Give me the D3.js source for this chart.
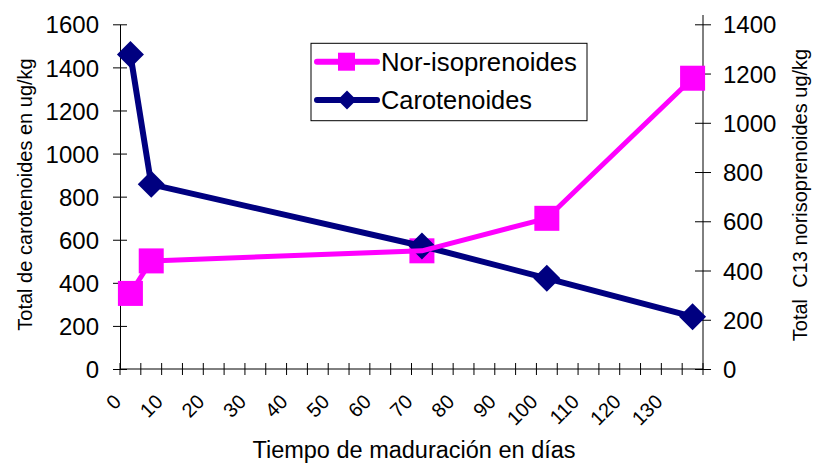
<!DOCTYPE html>
<html>
<head>
<meta charset="utf-8">
<script src="https://cdn.jsdelivr.net/npm/d3@7/dist/d3.min.js"></script>
<style>
  html, body { margin: 0; padding: 0; background: #fff; }
  svg { display: block; font-family: "Liberation Sans", Arial, sans-serif; }
</style>
</head>
<body>
<svg id="chart" width="813" height="463"></svg>
<script>
// Ripening days: one category every 5 days, labelled every 10
const days = ["0","5","10","15","20","25","30","35","40","45","50","55","60","65",
              "70","75","80","85","90","95","100","105","110","115","120","125","130","135"];
const dayTickLabels = ["0","10","20","30","40","50","60","70","80","90","100","110","120","130"];

// Sampled days and measured totals
const sampleDays = ["0","5","70","100","135"];
const carotenoides = [1460, 857, 571, 421, 243];      // ug/kg, left axis
const norIsoprenoides = [307, 439, 480, 612, 1181];   // ug/kg, right axis

const leftTicks = [0, 200, 400, 600, 800, 1000, 1200, 1400, 1600];
const rightTicks = [0, 200, 400, 600, 800, 1000, 1200, 1400];

const PINK = "#FF00FF", NAVY = "#000080";
const FONT = "'Liberation Sans', Arial, sans-serif";

const svg = d3.select("#chart");
const plotLeft = 120, plotRight = 703, plotTop = 24.3, plotBottom = 369;

const x = d3.scaleBand().domain(days).range([plotLeft, plotRight]).paddingInner(0).paddingOuter(0);
const cx = d => x(d) + x.bandwidth() / 2;
const yL = d3.scaleLinear().domain([0, 1600]).range([plotBottom, plotTop]);
const yR = d3.scaleLinear().domain([0, 1400]).range([plotBottom, plotTop]);

// Left axis
const gL = svg.append("g").attr("transform", `translate(${plotLeft},0)`)
  .call(d3.axisLeft(yL).tickValues(leftTicks).tickFormat(d3.format("d"))
    .tickSize(7).tickPadding(14).tickSizeOuter(0));
gL.select(".domain").attr("stroke", "#000");
gL.selectAll(".tick line").attr("x1", 7).attr("stroke", "#000");
gL.selectAll(".tick text").style("font-size", "24px").style("font-family", FONT)
  .attr("fill", "#000").attr("dy", "0.36em");

// Right axis
const gR = svg.append("g").attr("transform", `translate(${plotRight},0)`)
  .call(d3.axisRight(yR).tickValues(rightTicks).tickFormat(d3.format("d"))
    .tickSize(8).tickPadding(12).tickSizeOuter(0));
gR.select(".domain").attr("stroke", "#000").attr("d", `M0,15V${plotBottom}`);
gR.selectAll(".tick line").attr("x1", -8).attr("stroke", "#000");
gR.selectAll(".tick text").style("font-size", "24px").style("font-family", FONT)
  .attr("fill", "#000").attr("dy", "0.36em");

// Category axis: tick marks between categories, labels at centres
const gX = svg.append("g");
gX.append("line").attr("x1", plotLeft).attr("x2", plotRight).attr("y1", plotBottom).attr("y2", plotBottom)
  .attr("stroke", "#000");
const bounds = days.map(d => x(d)).concat([x(days[days.length - 1]) + x.bandwidth()]);
gX.selectAll("line.tick").data(bounds).join("line").attr("class", "tick")
  .attr("x1", d => d).attr("x2", d => d).attr("y1", plotBottom - 6).attr("y2", plotBottom + 6)
  .attr("stroke", "#000");
gX.selectAll("text.lbl").data(dayTickLabels).join("text").attr("class", "lbl")
  .attr("transform", d => `translate(${cx(d) - 8},${plotBottom + 34}) rotate(-45)`)
  .attr("text-anchor", "end")
  .style("font-size", "20px").style("font-family", FONT).attr("fill", "#000")
  .text(d => d);

// Axis titles
svg.append("text")
  .attr("transform", `translate(31.5,${(57 + 332) / 2}) rotate(-90)`)
  .attr("text-anchor", "middle").style("font-size", "20px").attr("fill", "#000")
  .text("Total de carotenoides en ug/kg");
svg.append("text")
  .attr("transform", `translate(807,195) rotate(-90)`)
  .attr("text-anchor", "middle").style("font-size", "20px").attr("fill", "#000")
  .style("white-space", "pre")
  .text("Total  C13 norisoprenoides ug/kg");
svg.append("text")
  .attr("x", 414).attr("y", 457.5).attr("text-anchor", "middle")
  .style("font-size", "23.5px").attr("fill", "#000")
  .text("Tiempo de maduración en días");

const carData = sampleDays.map((d, i) => ({ d, v: carotenoides[i] }));
const norData = sampleDays.map((d, i) => ({ d, v: norIsoprenoides[i] }));

const diamond = s => `M0,${-s}L${s},0L0,${s}L${-s},0Z`;

// Nor-isoprenoid markers
svg.append("g").selectAll("rect").data(norData).join("rect")
  .attr("x", d => cx(d.d) - 12.5).attr("y", d => yR(d.v) - 12.5)
  .attr("width", 25).attr("height", 25).attr("fill", PINK);

// Carotenoid line and markers
svg.append("path").datum(carData)
  .attr("d", d3.line().x(d => cx(d.d)).y(d => yL(d.v)))
  .attr("fill", "none").attr("stroke", NAVY).attr("stroke-width", 6).attr("stroke-linejoin", "round");
svg.append("g").selectAll("path").data(carData).join("path")
  .attr("transform", d => `translate(${cx(d.d)},${yL(d.v)})`)
  .attr("d", diamond(13.5)).attr("fill", NAVY);

// Nor-isoprenoid line
svg.append("path").datum(norData)
  .attr("d", d3.line().x(d => cx(d.d)).y(d => yR(d.v)))
  .attr("fill", "none").attr("stroke", PINK).attr("stroke-width", 5).attr("stroke-linejoin", "round");

// Legend
const lg = svg.append("g");
lg.append("rect").attr("x", 311).attr("y", 43.3).attr("width", 276).attr("height", 77.4)
  .attr("fill", "#fff").attr("stroke", "#000").attr("stroke-width", 1);
const legendRows = [
  { name: "Nor-isoprenoides", color: PINK, y: 61.7, marker: "square" },
  { name: "Carotenoides", color: NAVY, y: 100, marker: "diamond" }
];
legendRows.forEach(r => {
  lg.append("line").attr("x1", 317).attr("x2", 377).attr("y1", r.y).attr("y2", r.y)
    .attr("stroke", r.color).attr("stroke-width", 6).attr("stroke-linecap", "round");
  if (r.marker === "square") {
    lg.append("rect").attr("x", 338).attr("y", r.y - 9).attr("width", 17).attr("height", 18)
      .attr("fill", r.color);
  } else {
    lg.append("path").attr("transform", `translate(347,${r.y})`).attr("d", diamond(9.5))
      .attr("fill", r.color);
  }
  lg.append("text").attr("x", 381).attr("y", r.y + 9).style("font-size", "25px").attr("fill", "#000")
    .attr("textLength", r.marker === "square" ? 196 : 151).attr("lengthAdjust", "spacingAndGlyphs")
    .text(r.name);
});
</script>
</body>
</html>
